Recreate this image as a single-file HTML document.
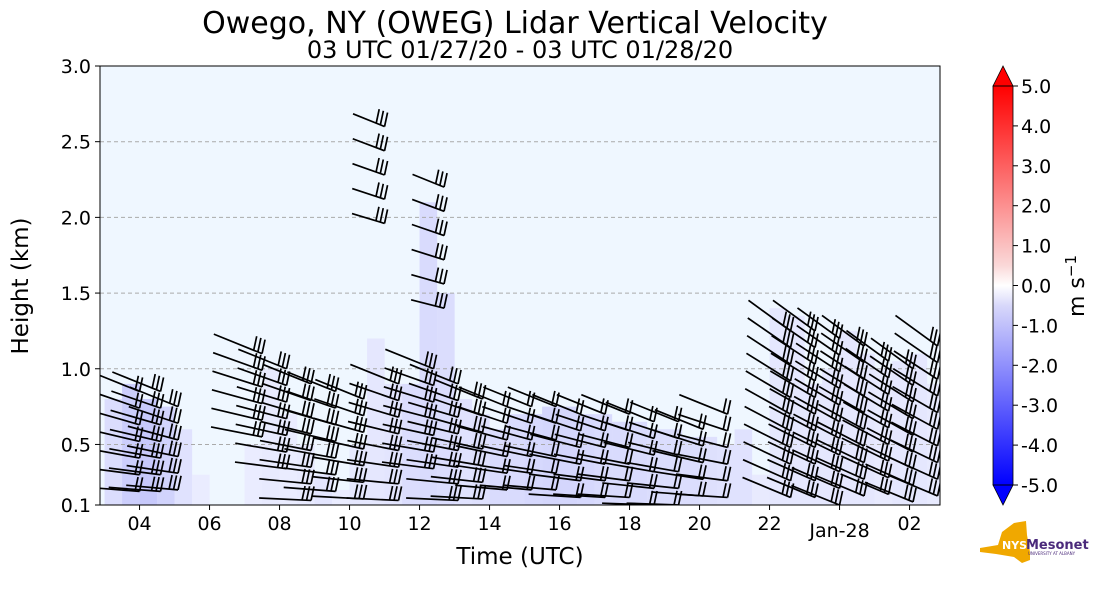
<!DOCTYPE html>
<html><head><meta charset="utf-8"><style>
body{margin:0;background:#fff;font-family:"Liberation Sans","DejaVu Sans",sans-serif;}
svg text{font-family:"DejaVu Sans","Liberation Sans",sans-serif;}
</style></head><body>
<svg id="c" width="1101" height="600" xmlns="http://www.w3.org/2000/svg">
<text x="515" y="33" font-size="30" text-anchor="middle">Owego, NY (OWEG) Lidar Vertical Velocity</text>
<text x="520" y="58" font-size="24" text-anchor="middle">03 UTC 01/27/20 - 03 UTC 01/28/20</text>
<defs>
<linearGradient id="cb" x1="0" y1="1" x2="0" y2="0">
<stop offset="0" stop-color="#0000ff"/><stop offset="0.45" stop-color="#d8d8fa"/><stop offset="0.5" stop-color="#ffffff"/><stop offset="0.55" stop-color="#fad8d8"/><stop offset="1" stop-color="#ff0000"/>
</linearGradient>
<clipPath id="pc"><rect x="100" y="66" width="840" height="439"/></clipPath>
</defs>
<rect x="100" y="66" width="840" height="439" fill="#eff7ff"/>
<g id="shade" clip-path="url(#pc)"></g>
<g id="grid"></g>
<g id="barbs" clip-path="url(#pc)"></g>
<rect x="100" y="66" width="840" height="439" fill="none" stroke="#000" stroke-width="1"/>
<g id="axes"></g>
<text x="520" y="564" font-size="23" text-anchor="middle">Time (UTC)</text>
<text transform="translate(28,286) rotate(-90)" font-size="23" text-anchor="middle">Height (km)</text>
<g>
<rect x="993" y="86" width="20" height="399" fill="url(#cb)"/>
<polygon points="993,86 1003,66 1013,86" fill="#ff0000" stroke="#000" stroke-width="0.8"/>
<polygon points="993,485 1003,505 1013,485" fill="#0000ff" stroke="#000" stroke-width="0.8"/>
<rect x="993" y="86" width="20" height="399" fill="none" stroke="#000" stroke-width="0.8"/>
<g id="cbt"></g>
<text transform="translate(1084,286) rotate(-90)" font-size="22" text-anchor="middle">m s<tspan dy="-8" font-size="15">−1</tspan></text>
</g>
<g>
<polygon points="980,548 998,545 1002,532 1014,523 1026,521 1027,535 1030,552 1030,560 1022,563 1014,557 996,554 980,552" fill="#f0a800"/>
<text x="1002" y="549" font-size="11" font-weight="bold" fill="#fff">NYS</text>
<text x="1026" y="549" font-size="13" font-weight="bold" fill="#4b2a7b">Mesonet</text>
<text x="1028" y="555" font-size="4" fill="#4b2a7b">UNIVERSITY AT ALBANY</text>
</g>
</svg>
<script>
const xTickHours=[4,6,8,10,12,14,16,18,20,22,24,26];
const xTickLabels=["04","06","08","10","12","14","16","18","20","22","Jan-28","02"];
const yTicks=[0.1,0.5,1.0,1.5,2.0,2.5,3.0];
const cbTicks=[5,4,3,2,1,0,-1,-2,-3,-4,-5];
const barbTimes=[4.0,4.6,5.1,7.5,8.2,8.9,9.6,10.4,11.0,11.4,12.7,12.4,13.1,13.8,14.5,15.2,15.9,16.6,17.3,18.0,18.7,19.4,20.1,20.8,22.6,23.3,24.0,24.7,25.4,26.1,26.8];
const barbBottoms=[0.1,0.1,0.1,0.55,0.3,0.1,0.1,0.1,1.9,0.1,1.3,0.3,0.1,0.1,0.1,0.1,0.1,0.1,0.1,0.1,0.1,0.1,0.1,0.1,0.1,0.1,0.1,0.1,0.1,0.1,0.1];
const barbTops=[0.85,0.85,0.75,1.1,1.0,0.9,0.85,0.8,2.6,0.9,2.2,1.0,0.9,0.8,0.75,0.75,0.75,0.7,0.7,0.7,0.65,0.65,0.6,0.7,1.25,1.25,1.2,1.15,1.05,1.0,1.15];
const barbSpeeds=[2,3,3,3,3,3,3,3,3,3,3,3,3,3,2,2,2,2,2,2,2,2,2,2,3,3,3,3,3,3,3];
const shadeTimes=[3,3.5,4,4.5,5,5.5,6,6.5,7,7.5,8,8.5,9,9.5,10,10.5,11,11.5,12,12.5,13,13.5,14,14.5,15,15.5,16,16.5,17,17.5,18,18.5,19,19.5,20,20.5,21,21.5,22,22.5,23,23.5,24,24.5,25,25.5,26,26.5];
const shadeTops=[0.8,0.9,0.8,0.75,0.6,0.3,0.1,0.1,0.5,1.0,0.7,0.5,0.3,0.2,0.5,1.2,0.9,0.9,2.1,1.5,0.8,0.7,0.6,0.7,0.7,0.75,0.75,0.7,0.7,0.65,0.65,0.6,0.6,0.55,0.55,0.5,0.6,0.3,1.4,1.35,0.9,1.0,1.25,1.1,1.0,1.05,1.1,0.9];
const shadeLevel=[0.4,0.7,0.8,0.6,0.3,0.1,0,0,0.1,0.15,0.1,0.15,0.25,0.1,0.2,0.2,0.25,0.4,0.45,0.4,0.3,0.35,0.45,0.45,0.5,0.55,0.55,0.5,0.45,0.45,0.45,0.4,0.4,0.4,0.35,0.3,0.3,0.15,0.2,0.2,0.2,0.2,0.2,0.2,0.15,0.2,0.2,0.15];
const NS="http://www.w3.org/2000/svg";
const X=h=>100+(h-2.87)*35;
const Y=k=>505-(k-0.1)*151.38;
const CBY=v=>285.5-v*39.9;
function mk(p,tag,at){const e=document.createElementNS(NS,tag);for(const k in at)e.setAttribute(k,at[k]);p.appendChild(e);return e;}
const shade=document.getElementById('shade'),grid=document.getElementById('grid'),axes=document.getElementById('axes'),barbs=document.getElementById('barbs'),cbt=document.getElementById('cbt');
shadeTimes.forEach((t,i)=>{
  const l=shadeLevel[i];const c=`rgb(${Math.round(239-50*l)},${Math.round(241-50*l)},${Math.round(255-5*l)})`;
  const r=mk(shade,'rect',{x:X(t),y:Y(shadeTops[i]),width:17.6,height:505-Y(shadeTops[i]),fill:c});
  
  
});
yTicks.forEach(v=>{
  if(v>0.1&&v<3){const g=mk(grid,'line',{x1:100,x2:940,y1:Y(v),y2:Y(v),stroke:'#aaa','stroke-dasharray':'4,3','stroke-width':1});
  }
  mk(axes,'line',{x1:95,x2:100,y1:Y(v),y2:Y(v),stroke:'#000'});
  const t=mk(axes,'text',{x:91,y:Y(v)+7,'font-size':19,'text-anchor':'end'});t.textContent=v.toFixed(1);
  
});
xTickHours.forEach((h,i)=>{
  mk(axes,'line',{x1:X(h),x2:X(h),y1:505,y2:510,stroke:'#000'});
  const t=mk(axes,'text',{x:X(h),y:i==10?537:530,'font-size':19,'text-anchor':'middle'});t.textContent=xTickLabels[i];
  
});
cbTicks.forEach(v=>{
  mk(cbt,'line',{x1:1013,x2:1018,y1:CBY(v),y2:CBY(v),stroke:'#000'});
  const t=mk(cbt,'text',{x:1021,y:CBY(v)+7,'font-size':19});t.textContent=v.toFixed(1);
  
});
barbTimes.forEach((t,i)=>{
  const top=barbTops[i],bot=barbBottoms[i];const dh=top>1.5?0.16:0.11;
  for(let k=top;k>=bot-0.001;k-=dh){
    const frac=(k-0.1)/Math.max(top-0.1,0.1);
    let ang=(t>21.5?(22+14*frac):(2+20*frac)); const a=ang*Math.PI/180;
    const tx=X(t),ty=Y(k),L=(top>1.5?34:52);
    const bx=tx-L*Math.cos(a),by=ty-L*Math.sin(a);
    const g=mk(barbs,'g',{stroke:'#000','stroke-width':1.7,fill:'none'});
    
    
    mk(g,'line',{x1:bx,y1:by,x2:tx,y2:ty});
    for(let b=0;b<barbSpeeds[i];b++){
      const px=tx-b*4.5*Math.cos(a),py=ty-b*4.5*Math.sin(a);
      mk(g,'line',{x1:px,y1:py,x2:px+3,y2:py-14});
    }
  }
});
</script>
</body></html>
